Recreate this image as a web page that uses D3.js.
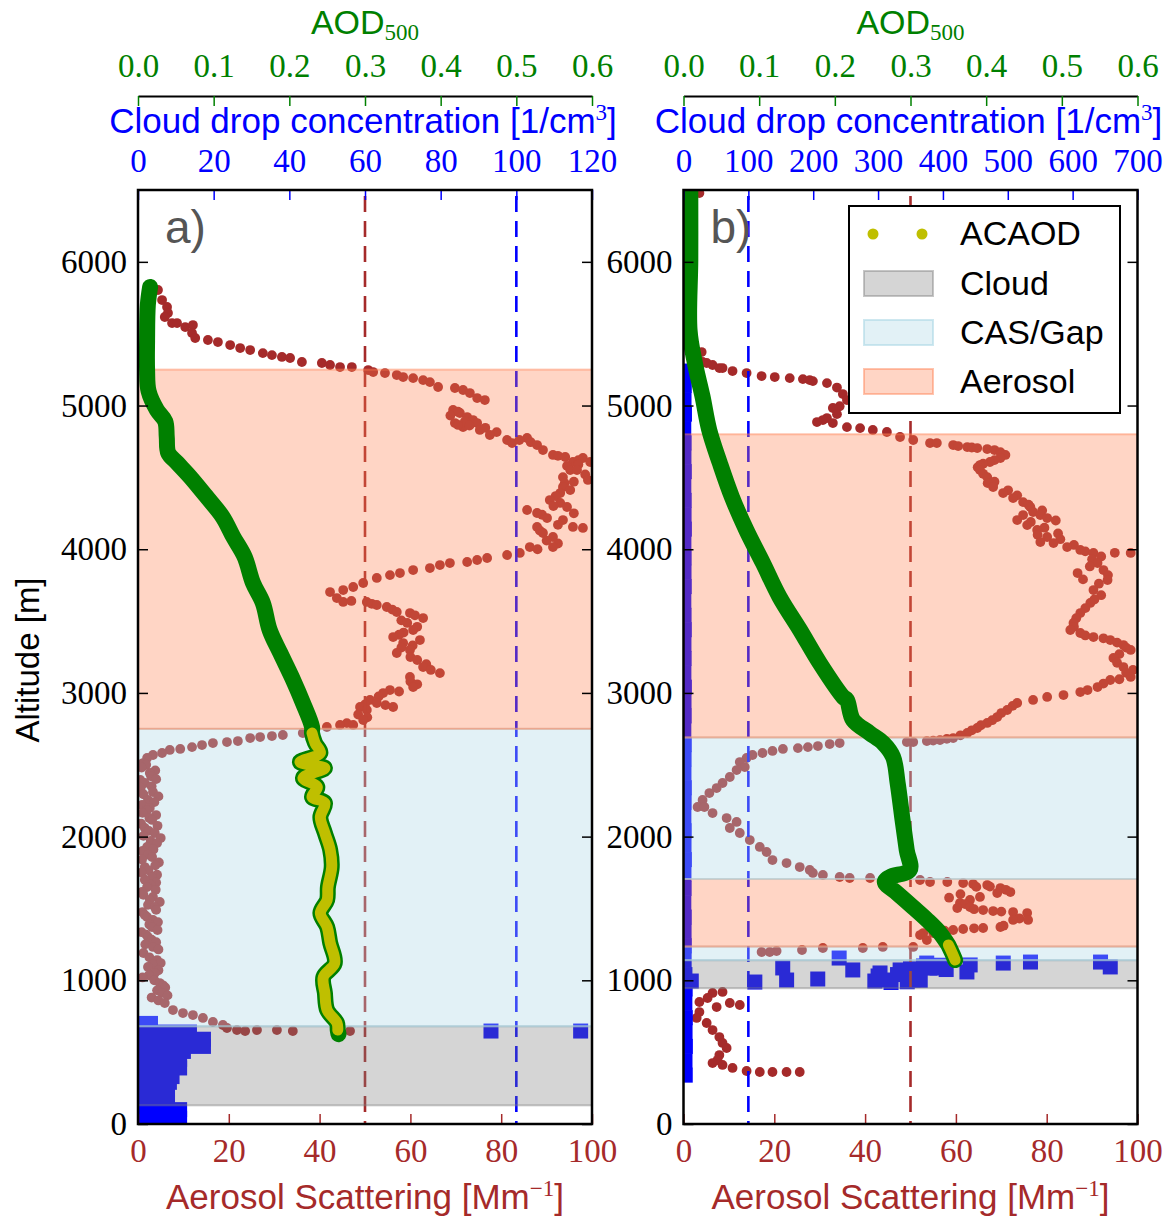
<!DOCTYPE html>
<html><head><meta charset="utf-8">
<script src="https://cdn.jsdelivr.net/npm/d3@7"></script>
<style>body{margin:0;background:#fff}</style></head>
<body>
<svg id="c" width="1165" height="1217"></svg>
<script>
// ---------------- DATA ----------------
const altTicks = [0,1000,2000,3000,4000,5000,6000];
const scatTicks = [0,20,40,60,80,100];
const aodTicks = [0,0.1,0.2,0.3,0.4,0.5,0.6];
const cdpTicksA = [0,20,40,60,80,100,120];
const cdpTicksB = [0,100,200,300,400,500,600,700];
const panelLabels = ['a)','b)'];
const legendLabels = ['ACAOD','Cloud','CAS/Gap','Aerosol'];
const scatThreshold = 50;
const cdpThreshold = 100;

// layers [type, bottom alt, top alt]
const bandsA = [['Cloud',130,680],['CAS/Gap',680,2750],['Aerosol',2750,5250]];
const bandsB = [['Cloud',945,1140],['CAS/Gap',1140,1235],['Aerosol',1235,1705],['CAS/Gap',1705,2690],['Aerosol',2690,4800]];

// aerosol scattering [Mm-1, altitude m]
const scatA = [
[4.4,5804],[5.3,5734],[6.4,5686],[6.6,5644],[5.9,5616],[7.5,5574],[8.6,5574],[10.4,5546],[12.1,5560],[11.9,5505],[12.6,5470],[15.4,5456],[17.6,5442],[20.3,5421],[22.5,5400],[24.7,5386],[27.5,5365],[29.5,5351],[31.7,5338],[33.5,5331],[36.1,5303],[40.5,5296],[42.3,5282],[44.5,5268],[47.1,5268],[50.7,5247],[51.8,5233],[54.4,5226],[57.0,5212],[58.4,5198],[60.6,5191],[62.8,5177],[64.3,5163],[66.1,5129],[69.8,5122],[71.6,5108],[73.1,5087],[74.7,5052],[76.4,5038],
[69.4,4969],[70.9,4948],[72.5,4920],[73.8,4899],[69.8,4878],[71.6,4850],[74.7,4878],[75.3,4830],[70.5,4957],[68.8,4930],[72.0,4890],[70.5,4865],[73.0,4860],[76.5,4845],[79.0,4815],
[77.5,4795],[81.3,4760],[82.4,4739],[85.7,4774],[84.0,4760],[86.5,4745],[87.9,4725],[89.2,4690],[91.4,4656],[92.5,4650],[94.1,4642],[95.8,4607],[97.0,4620],[98.0,4635],[99.6,4607],[97.0,4590],[94.5,4580],[95.2,4551],[96.7,4551],[98.5,4520],[93.6,4502],[99.1,4482],[96.0,4470],[94.0,4460],[93.6,4433],[93.0,4391],[95.2,4412],[92.0,4370],[90.7,4342],[93.0,4322],[91.5,4300],[94.5,4294],[85.7,4273],[96.0,4250],[89.0,4240],[87.9,4252],[90.1,4217],[93.6,4203],[92.5,4170],[98.0,4148],[95.8,4155],[87.9,4155],[88.5,4130],[89.2,4113],[91.4,4085],[90.0,4060],[92.5,4040],[91.4,4015],[86.3,4015],[88.0,4000],[84.1,3974],[81.3,3960],[76.9,3939],[74.7,3925],[72.5,3911],[68.7,3904],[66.5,3890],[64.3,3869],[60.6,3855],[57.7,3834],[55.5,3820],[52.6,3800],[49.6,3765],[47.4,3737],[45.2,3716],[42.3,3702],[43.8,3660],[45.2,3633],
[47.0,3640],[50.4,3633],[51.5,3620],[52.6,3612],[54.8,3598],[56.0,3580],[57.0,3563],[59.9,3556],[61.0,3540],[62.8,3521],[58.0,3505],[59.3,3487],[61.5,3460],[60.6,3438],[58.5,3420],[57.5,3405],[56.2,3389],[62.1,3368],[58.4,3347],[60.5,3330],[58.0,3315],[59.9,3299],[57.0,3278],[60.0,3250],[61.5,3229],[63.5,3200],[62.8,3180],[64.5,3160],[66.5,3138],[59.9,3111],[60.0,3080],[61.5,3060],[60.6,3041],
[55.5,3020],[57.5,3010],[54.0,2999],[53.0,2975],[51.1,2951],[52.6,2930],[50.0,2920],[54.5,2915],[48.9,2902],[56.2,2902],[50.4,2881],[48.5,2850],[50.5,2830],[49.6,2811],[46.0,2790],[47.4,2777],[44.5,2777],[41.6,2763],
[36.3,2721],[31.9,2707],[29.5,2700],[26.9,2693],[24.7,2686],[22.0,2665],[19.6,2658],[16.5,2651],[14.1,2637],[11.9,2623],[9.3,2610],[7.0,2603],[5.3,2582],[3.3,2568],[2.0,2547],[1.1,2512],
[1.8,2500],[0.8,2480],[3.8,2460],[2.6,2443],[2.9,2420],[4.0,2400],[0.5,2395],[1.5,2373],[3.0,2350],[0.6,2340],[3.3,2310],[1.2,2295],[4.5,2280],[2.2,2255],[3.6,2240],[0.9,2220],[2.6,2200],[2.0,2185],[1.0,2165],[4.0,2150],[2.5,2130],[3.1,2116],[0.7,2090],[4.3,2075],[1.5,2060],[2.4,2040],[3.7,2025],[1.2,2005],[5.0,1990],[2.8,1970],[4.2,1955],[2.0,1928],[3.4,1910],[1.0,1900],[2.2,1875],[3.1,1858],[0.9,1840],[4.6,1820],[3.8,1800],[1.5,1788],[2.3,1765],[0.8,1750],[4.2,1735],[3.1,1719],[1.5,1700],[4.0,1680],[2.8,1665],[2.0,1649],[3.9,1630],[0.9,1615],[1.2,1595],[3.3,1580],[2.6,1560],[4.8,1545],[2.2,1525],[3.7,1510],[4.0,1490],[1.0,1475],[1.5,1455],[2.0,1441],[3.3,1420],[4.4,1405],[2.5,1388],[3.1,1371],[4.3,1350],[0.8,1335],[1.8,1318],[2.2,1301],[3.0,1283],[4.0,1265],[1.6,1250],[3.3,1232],[4.5,1215],[1.2,1190],[2.5,1160],[4.2,1141],[5.0,1120],[3.2,1110],[2.2,1093],[4.5,1070],[3.7,1051],[2.4,1035],[1.0,1020],[3.6,1000],[4.8,981],[5.5,965],[6.0,950],[4.2,930],[5.3,912],[6.5,895],[3.0,880],[4.5,860],
[5.9,842],[7.7,793],[9.9,772],[12.1,758],[14.3,738],[16.5,710],[18.7,689],[19.6,668],[21.8,654],[23.6,647],[26.2,654],[30.6,654],[34.1,647],[46.7,647]
];
const scatB = [
[3.5,6479],
[4.0,5372],[4.2,5303],[5.1,5296],[6.4,5282],[7.9,5261],[8.6,5261],[10.8,5240],[13.9,5226],[17.2,5205],[20.1,5198],[23.4,5191],[26.3,5184],[27.8,5177],[28.5,5170],[31.6,5156],[33.8,5125],[35.1,5080],[36.0,5038],[34.4,4995],[32.9,4983],[33.8,4940],[31.6,4913],[30.7,4899],[29.4,4885],[32.9,4878],[36.0,4850],[38.9,4843],[41.7,4830],[44.8,4816],[47.7,4781],[50.6,4760],[54.3,4739],[55.8,4739],[59.4,4725],[60.5,4718],[62.5,4711],[63.5,4708],[64.7,4704],[66.9,4697],[68.5,4690],[69.8,4676],[70.0,4665],[70.9,4656],[69.8,4635],[68.5,4620],[67.5,4607],[66.0,4595],[65.3,4586],[64.8,4570],[65.3,4551],[66.0,4525],[66.9,4502],[68.5,4470],[67.0,4460],[68.2,4433],[71.5,4410],[70.4,4391],[73.5,4375],[72.6,4356],[74.8,4328],[76.0,4310],[76.4,4294],[79.0,4270],[77.0,4259],[74.8,4238],[78.6,4238],[80.1,4217],[73.5,4203],[82.0,4200],[76.5,4190],[75.7,4168],[79.5,4150],[77.9,4134],[82.5,4110],[78.0,4100],[80.1,4085],[83.0,4070],[78.6,4050],[81.5,4043],[86.0,4030],[84.5,4015],[87.4,3995],[88.5,3985],[90.3,3974],[95.0,3975],[98.5,3974],[92.0,3950],[90.0,3930],[91.2,3904],[89.5,3880],[92.5,3855],[86.8,3834],[93.5,3820],[88.0,3790],[93.4,3786],[91.5,3760],[90.3,3716],[92.0,3680],[90.5,3650],[89.6,3626],[88.5,3590],[87.4,3556],[86.5,3520],[85.9,3487],[86.0,3460],[85.2,3438],[87.4,3417],[88.5,3400],[90.3,3389],[92.5,3380],[94.0,3368],[95.5,3350],[96.9,3333],[97.5,3315],[98.5,3299],[96.0,3270],[94.7,3243],[95.5,3210],[96.9,3180],[99.0,3160],[97.5,3140],[98.5,3111],[96.0,3095],[94.0,3090],[92.5,3065],[91.2,3041],[89.0,3020],[87.4,3006],[83.7,2985],[80.1,2972],[77.0,2951],[73.5,2930],[72.5,2910],[71.3,2881],[70.0,2860],[69.1,2832],[68.0,2810],[66.9,2791],[65.5,2775],[64.7,2756],[63.5,2740],[62.5,2721],[61.0,2705],[59.4,2686],[58.0,2680],[56.5,2672],[55.0,2668],[53.6,2665],[50.6,2658],
[49.2,2658],[34.4,2651],[32.2,2644],[29.6,2630],[27.4,2623],[25.2,2616],[21.9,2610],[19.6,2596],[17.4,2582],[15.2,2568],[13.9,2547],[12.4,2519],[13.5,2484],[11.7,2463],[10.2,2415],[8.6,2373],[7.3,2338],[5.7,2303],[4.2,2255],[3.1,2206],[4.6,2206],[6.4,2164],[9.5,2129],[11.7,2102],[10.2,2060],[12.4,2025],[14.6,1976],[16.8,1928],[18.3,1893],[19.6,1837],[22.7,1816],[25.6,1788],[27.8,1768],[28.5,1747],[30.7,1733],[34.4,1719],[36.6,1712],[41.1,1712],[52.1,1698],[54.3,1684],[58.1,1684],[61.6,1677],[63.8,1670],[66.9,1663],
[64.5,1650],[67.5,1652],[69.8,1642],[71.0,1630],[72.0,1614],[69.1,1607],[61.0,1600],[65.3,1580],[58.5,1575],[63.1,1559],[60.9,1538],[62.0,1530],[60.3,1503],[63.1,1510],[64.0,1495],[66.0,1489],[68.2,1482],[70.0,1478],[72.6,1475],[75.7,1468],[74.0,1430],[75.9,1420],[72.6,1420],[70.5,1380],[69.8,1371],[66.0,1364],[64.0,1362],[61.6,1357],[59.4,1350],[57.5,1345],[56.5,1336],[55.0,1329],[52.8,1329],[52.1,1315],[53.6,1280],[50.6,1232],
[43.9,1232],[39.5,1225],[30.7,1225],[26.1,1211],[20.5,1204],[19.0,1197],[17.2,1197],
[6.4,912],[8.6,919],[5.3,877],[3.5,849],[10.2,842],[12.4,828],[7.3,814],[3.5,779],[2.9,738],[5.1,703],[6.4,654],[7.9,605],[8.6,564],[9.5,529],[7.9,480],[7.5,445],[6.4,424],[8.6,411],[10.8,390],[13.9,369],[16.8,362],[19.6,362],[22.7,362],[25.6,362]
];

// cloud drop concentration [altitude m, 1/cm3] — profile (dense, filled) and isolated points
const cdpProfA = [[700,3.3],[640,13.6],[590,17.3],[540,17.3],[505,12],[450,11],[390,11],[330,9],[290,8.3],[240,7.8],[190,7.8],[150,7.8],[100,11],[40,11]];
const cdpPtsA = [[647,93.3],[647,117]];
const cdpProfB = [[5240,0.6],[5140,1.2],[5040,0.8],[4940,1.5],[4840,0.4],[4740,1.0],[4640,0.7],[4540,1.3],[4440,0.5],[4340,1.1],[4240,0.9],[4140,1.4],[4040,0.6],[3940,1.0],[3840,0.8],[3740,1.2],[3640,0.5],[3540,0.9],[3440,1.3],[3340,0.7],[3240,1.0],[3140,0.6],[3040,1.4],[2940,0.8],[2840,1.1],[2740,0.5],[2640,1.2],[2540,0.9],[2440,0.7],[2340,1.3],[2240,1.0],[2140,0.6],[2040,1.1],[1940,0.8],[1840,1.4],[1740,0.7],[1640,1.0],[1540,0.5],[1440,1.2],[1340,0.9],[1240,1.3],[1140,1.0],[1040,2.2],[940,2.6],[840,2.1],[740,2.8],[640,2.4],[540,2.9],[440,2.3],[340,2.7]];
const cdpPtsB = [[995,12],[988,110],[1086,153],[1002,159],[1009,207],[1155,240],[1072,261],[995,295],[1051,303],[1030,300],[1002,314],[985,320],[1040,330],[1072,334],[990,345],[1080,350],[1002,354],[1000,365],[1100,370],[1120,375],[1085,380],[1086,391],[1105,395],[1075,405],[1107,442],[1058,437],[1120,493],[1127,535],[1127,643],[1093,658]];

// AOD500 profile [AOD, altitude m]
const aodA = [[0.016,5825],[0.013,5700],[0.012,5450],[0.012,5250],[0.014,5100],[0.025,4969],[0.036,4890],[0.038,4781],[0.040,4670],[0.052,4600],[0.069,4503],[0.091,4363],[0.112,4224],[0.126,4085],[0.141,3946],[0.152,3765],[0.165,3626],[0.174,3438],[0.188,3278],[0.205,3090],[0.218,2930],[0.230,2763]];
const acaodA = [[0.230,2721],[0.234,2651],[0.241,2582],[0.214,2519],[0.227,2498],[0.247,2477],[0.218,2408],[0.237,2345],[0.230,2276],[0.247,2234],[0.241,2136],[0.247,2025],[0.254,1907],[0.256,1788],[0.251,1649],[0.250,1559],[0.241,1468],[0.250,1371],[0.254,1260],[0.260,1120],[0.245,1023],[0.247,912],[0.250,793],[0.263,703],[0.264,654]];
const aodTailA = [[0.265,625]];
const aodB = [[0.009,6500],[0.009,6013],[0.008,5525],[0.015,5296],[0.025,5066],[0.034,4830],[0.048,4600],[0.064,4363],[0.083,4134],[0.105,3904],[0.127,3667],[0.154,3438],[0.180,3208],[0.211,2972],[0.216,2951],[0.224,2811],[0.246,2721],[0.264,2651],[0.277,2554],[0.283,2373],[0.289,2136],[0.295,1907],[0.299,1768],[0.273,1719],[0.266,1684],[0.282,1608],[0.303,1510],[0.322,1420],[0.339,1329],[0.350,1246]];
const acaodB = [[0.350,1246],[0.355,1190],[0.359,1141]];
const aodTailB = [];

// ---------------- DRAW ----------------
const SANS = "'Liberation Sans', Arial, Helvetica, sans-serif";
const SERIF = "'Liberation Serif', 'Times New Roman', serif";
const BROWN = '#a52a2a', GREEN = '#008000', BLUE = '#0000ff', YEL = '#bfbf00';
const bandStyle = {
  'Cloud':   {fill:'#808080', op:0.33, stroke:'#808080', sop:0.45},
  'CAS/Gap': {fill:'#add8e6', op:0.35, stroke:'#add8e6', sop:0.6},
  'Aerosol': {fill:'#ff7f50', op:0.33, stroke:'#ff7f50', sop:0.45}
};
const svg = d3.select('#c');
const Y0 = 1124, Y1 = 190;
const y = d3.scaleLinear().domain([0,6500]).range([Y0,Y1]);

const panels = [
  {id:'a', L:138, R:592, cdpMax:120, cdpTicks:cdpTicksA, scat:scatA, prof:cdpProfA, pts:cdpPtsA, bands:bandsA, aod:aodA, acaod:acaodA, tail:aodTailA, label:panelLabels[0]},
  {id:'b', L:683.5, R:1137.5, cdpMax:700, cdpTicks:cdpTicksB, scat:scatB, prof:cdpProfB, pts:cdpPtsB, bands:bandsB, aod:aodB, acaod:acaodB, tail:aodTailB, label:panelLabels[1]}
];

function styleAxis(g, color, fontFamily, size, tickColor) {
  g.selectAll('.tick line').attr('stroke', tickColor || color).attr('stroke-width', 1.5);
  g.selectAll('.tick text').attr('fill', color).style('font-family', fontFamily).style('font-size', size + 'px');
}

panels.forEach(p => {
  const {L, R} = p;
  const cx = (L + R) / 2;
  const xs = d3.scaleLinear().domain([0,100]).range([L,R]);
  const xa = d3.scaleLinear().domain([0,0.6]).range([L,R]);
  const xc = d3.scaleLinear().domain([0,p.cdpMax]).range([L,R]);

  svg.append('clipPath').attr('id','clip'+p.id).append('rect')
    .attr('x',L).attr('y',Y1).attr('width',R-L).attr('height',Y0-Y1);
  const g = svg.append('g').attr('clip-path',`url(#clip${p.id})`);

  // aerosol scattering dots
  g.selectAll('circle.sc').data(p.scat).join('circle').attr('class','sc')
    .attr('cx', d => xs(d[0])).attr('cy', d => y(d[1])).attr('r', 4.9).attr('fill', BROWN);

  // cloud drop concentration
  const half = 7.5;
  g.selectAll('rect.prof').data(p.prof).join('rect').attr('class','prof')
    .attr('x', L).attr('y', d => y(d[0]) - half)
    .attr('width', d => xc(d[1]) - L + half).attr('height', 2*half).attr('fill', BLUE);
  g.selectAll('rect.pt').data(p.pts).join('rect').attr('class','pt')
    .attr('x', d => xc(d[1]) - half).attr('y', d => y(d[0]) - half)
    .attr('width', 2*half).attr('height', 2*half).attr('fill', BLUE);

  // threshold lines
  g.append('line').attr('x1', xs(scatThreshold)).attr('x2', xs(scatThreshold)).attr('y1', Y1 + 6).attr('y2', Y0)
    .attr('stroke', BROWN).attr('stroke-width', 2.6).attr('stroke-dasharray', '16,9');
  g.append('line').attr('x1', xc(cdpThreshold)).attr('x2', xc(cdpThreshold)).attr('y1', Y1 + 6).attr('y2', Y0)
    .attr('stroke', BLUE).attr('stroke-width', 2.6).attr('stroke-dasharray', '16,9');

  // layer shading
  g.selectAll('rect.band').data(p.bands).join('rect').attr('class','band')
    .attr('x', L - 5).attr('width', R - L + 10)
    .attr('y', d => y(d[2])).attr('height', d => y(d[1]) - y(d[2]))
    .attr('fill', d => bandStyle[d[0]].fill).attr('fill-opacity', d => bandStyle[d[0]].op)
    .attr('stroke', d => bandStyle[d[0]].stroke).attr('stroke-opacity', d => bandStyle[d[0]].sop).attr('stroke-width', 2);

  // AOD profile
  const line = d3.line().x(d => xa(d[0])).y(d => y(d[1])).curve(d3.curveCatmullRom.alpha(0.5));
  g.append('path').datum(p.aod.concat(p.acaod, p.tail)).attr('d', line)
    .attr('fill','none').attr('stroke', GREEN).attr('stroke-width', 16)
    .attr('stroke-linecap','round').attr('stroke-linejoin','round');
  g.append('path').datum(p.acaod).attr('d', line)
    .attr('fill','none').attr('stroke', YEL).attr('stroke-width', 11)
    .attr('stroke-linecap','round').attr('stroke-linejoin','round');

  // axes
  svg.append('g').attr('transform', `translate(0,${Y0})`)
    .call(d3.axisBottom(xs).tickValues(scatTicks).tickSizeInner(-10).tickSizeOuter(0).tickPadding(15).tickFormat(d3.format('d')))
    .call(a => { a.select('.domain').remove(); styleAxis(a, BROWN, SERIF, 33); });
  svg.append('g').attr('transform', `translate(${L},0)`)
    .call(d3.axisLeft(y).tickValues(altTicks).tickSizeInner(-10).tickSizeOuter(0).tickPadding(11).tickFormat(d3.format('d')))
    .call(a => { a.select('.domain').remove(); styleAxis(a, '#000', SERIF, 33); });
  svg.append('g').attr('transform', `translate(${R},0)`)
    .call(d3.axisRight(y).tickValues(altTicks).tickSizeInner(-10).tickSizeOuter(0).tickFormat(''))
    .call(a => { a.select('.domain').remove(); styleAxis(a, '#000', SERIF, 33); });
  svg.append('g').attr('transform', `translate(0,${Y1})`)
    .call(d3.axisTop(xc).tickValues(p.cdpTicks).tickSizeInner(-10).tickSizeOuter(0).tickPadding(18).tickFormat(d3.format('d')))
    .call(a => { a.select('.domain').remove(); styleAxis(a, BLUE, SERIF, 33); });
  svg.append('g').attr('transform', 'translate(0,96)')
    .call(d3.axisTop(xa).tickValues(aodTicks).tickSizeInner(-10).tickSizeOuter(0).tickPadding(19).tickFormat(d3.format('.1f')))
    .call(a => { a.select('.domain').attr('stroke','#000').attr('stroke-width',2); styleAxis(a, GREEN, SERIF, 33); });

  // frame
  svg.append('rect').attr('x',L).attr('y',Y1).attr('width',R-L).attr('height',Y0-Y1)
    .attr('fill','none').attr('stroke','#000').attr('stroke-width',2.5);

  // panel label
  svg.append('text').attr('x', L + 27).attr('y', 243).text(p.label)
    .style('font-family', SANS).style('font-size','46px').attr('fill','#555');

  // titles
  const t1 = svg.append('text').attr('x', cx).attr('y', 34).attr('text-anchor','middle').attr('fill', GREEN);
  t1.append('tspan').text('AOD').style('font-family', SANS).style('font-size','34px');
  t1.append('tspan').attr('dy', 6).text('500').style('font-family', SERIF).style('font-size','23px');
  const t2 = svg.append('text').attr('x', cx - 2).attr('y', 133).attr('text-anchor','middle').attr('fill', BLUE).style('font-family', SANS).style('font-size','35px');
  t2.append('tspan').text('Cloud drop concentration [1/cm');
  t2.append('tspan').attr('dy', -13).text('3').style('font-family', SERIF).style('font-size','23px');
  t2.append('tspan').attr('dy', 13).text(']');
  const t3 = svg.append('text').attr('x', cx).attr('y', 1209).attr('text-anchor','middle').attr('fill', BROWN).style('font-family', SANS).style('font-size','35px');
  t3.append('tspan').text('Aerosol Scattering [Mm');
  t3.append('tspan').attr('dy', -13).text('\u22121').style('font-family', SERIF).style('font-size','23px');
  t3.append('tspan').attr('dy', 13).text(']');
});

// y-axis title
svg.append('text').attr('transform','translate(39,660) rotate(-90)').attr('text-anchor','middle')
  .style('font-family', SANS).style('font-size','33px').attr('fill','#000').text('Altitude [m]');

// legend
const lg = svg.append('g');
lg.append('rect').attr('x',849).attr('y',206).attr('width',271).attr('height',207)
  .attr('fill','#fff').attr('stroke','#000').attr('stroke-width',2);
const legendY = [245, 295, 344, 393];
lg.selectAll('circle.ld').data([873, 922]).join('circle').attr('class','ld')
  .attr('cx', d => d).attr('cy', 234).attr('r', 5.5).attr('fill', YEL);
lg.selectAll('rect.lp').data(legendLabels.slice(1)).join('rect').attr('class','lp')
  .attr('x', 864).attr('y', (d,i) => legendY[i+1] - 24).attr('width', 69).attr('height', 25)
  .attr('fill', d => bandStyle[d].fill).attr('fill-opacity', d => bandStyle[d].op)
  .attr('stroke', d => bandStyle[d].stroke).attr('stroke-opacity', d => bandStyle[d].sop).attr('stroke-width', 2);
lg.selectAll('text.lt').data(legendLabels).join('text').attr('class','lt')
  .attr('x', 960).attr('y', (d,i) => legendY[i]).text(d => d)
  .style('font-family', SANS).style('font-size','34px').attr('fill','#000');
</script>
</body></html>
